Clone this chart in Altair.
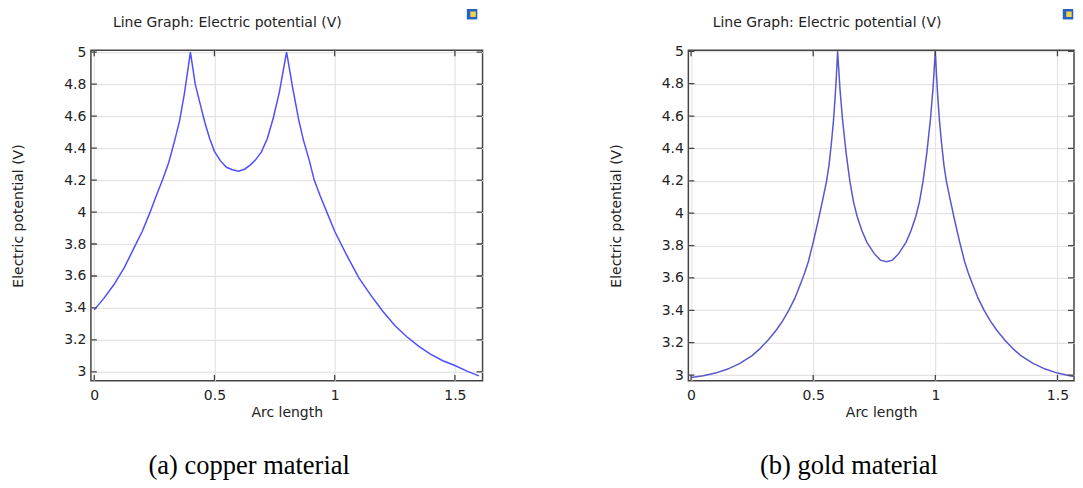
import altair as alt
import pandas as pd

# ---------------- data ----------------
copper_x = [0, 0.04, 0.083, 0.125, 0.166, 0.2, 0.23, 0.26, 0.285, 0.31, 0.335, 0.355,
            0.375, 0.4, 0.42, 0.445, 0.46, 0.48, 0.5, 0.525, 0.55, 0.575, 0.6, 0.625,
            0.65, 0.67, 0.695, 0.72, 0.745, 0.77, 0.8, 0.825, 0.85, 0.87, 0.895, 0.915,
            0.94, 0.97, 1.0, 1.05, 1.1, 1.15, 1.2, 1.25, 1.3, 1.35, 1.4, 1.45, 1.5,
            1.55, 1.6]
copper_v = [3.388, 3.46, 3.548, 3.652, 3.777, 3.88, 3.99, 4.11, 4.205, 4.31, 4.45, 4.57,
            4.74, 5.0, 4.80, 4.65, 4.56, 4.46, 4.38, 4.32, 4.28, 4.265, 4.256, 4.268,
            4.295, 4.325, 4.375, 4.46, 4.59, 4.75, 5.0, 4.78, 4.58, 4.45, 4.32, 4.20,
            4.10, 3.99, 3.88, 3.73, 3.59, 3.48, 3.38, 3.29, 3.22, 3.16, 3.11, 3.07, 3.04,
            3.005, 2.975]

gold_x = [0, 0.05, 0.1, 0.15, 0.2, 0.25, 0.28, 0.315, 0.35, 0.375, 0.4, 0.425, 0.45,
          0.465, 0.48, 0.5, 0.52, 0.54, 0.555, 0.565, 0.575, 0.583, 0.59, 0.595, 0.6,
          0.61, 0.62, 0.635, 0.65, 0.665, 0.68, 0.7, 0.72, 0.75, 0.775, 0.8,
          0.825, 0.85, 0.88, 0.9, 0.92, 0.935, 0.95, 0.965, 0.98, 0.99, 1.0,
          1.005, 1.01, 1.017, 1.025, 1.035, 1.045, 1.06, 1.08, 1.1, 1.12, 1.135, 1.15,
          1.175, 1.2, 1.225, 1.25, 1.285, 1.32, 1.35, 1.4, 1.45, 1.5, 1.55, 1.6]
gold_v = [2.985, 2.995, 3.012, 3.037, 3.072, 3.12, 3.16, 3.215, 3.28, 3.335, 3.40, 3.475,
          3.57, 3.63, 3.70, 3.82, 3.95, 4.09, 4.20, 4.30, 4.44, 4.57, 4.72, 4.85, 5.0,
          4.76, 4.58, 4.37, 4.20, 4.07, 3.98, 3.89, 3.82, 3.75, 3.71, 3.70,
          3.71, 3.75, 3.82, 3.89, 3.98, 4.07, 4.20, 4.37, 4.58, 4.76, 5.0,
          4.85, 4.72, 4.57, 4.44, 4.30, 4.20, 4.09, 3.95, 3.82, 3.70, 3.63, 3.57,
          3.475, 3.40, 3.335, 3.28, 3.215, 3.16, 3.12, 3.072, 3.037, 3.012, 2.995, 2.985]

x_ticks = [0, 0.5, 1, 1.5]
y_ticks = [3, 3.2, 3.4, 3.6, 3.8, 4, 4.2, 4.4, 4.6, 4.8, 5]

plot_title = "Line Graph: Electric potential (V)"
captions = ["(a) copper material", "(b) gold material"]
x_title = "Arc length"
y_title = "Electric potential (V)"

FONT = "DejaVu Sans"
FS = 14
TXT = "#222222"
FRAME = "#444444"


def panel(xs, vs, color, xdom, ydom, W, H, caption, title_x, cap_cx, icon_x):
    df = pd.DataFrame({"s": xs, "v": vs})
    xsc = alt.Scale(domain=xdom, nice=False, zero=False)
    ysc = alt.Scale(domain=ydom, nice=False, zero=False)
    xaxis = alt.Axis(values=x_ticks, format=".1~f", ticks=False, tickSize=0, domain=False,
                     grid=True, gridColor="#e4e4e4", gridWidth=1.2, labelOverlap=False,
                     labelFont=FONT, labelFontSize=FS, labelColor=TXT, labelPadding=8,
                     title=x_title, titleFont=FONT, titleFontSize=FS,
                     titleFontWeight="normal", titleColor=TXT,
                     titleY=36, titleBaseline="alphabetic")
    yaxis = alt.Axis(values=y_ticks, format=".1~f", ticks=False, tickSize=0, domain=False,
                     grid=True, gridColor="#e4e4e4", gridWidth=1.2, labelOverlap=False,
                     labelFont=FONT, labelFontSize=FS, labelColor=TXT, labelPadding=5,
                     title=y_title, titleFont=FONT, titleFontSize=FS,
                     titleFontWeight="normal", titleColor=TXT,
                     titleX=-72, titleBaseline="middle")
    line = alt.Chart(df).mark_line(color=color, strokeWidth=1.5, clip=True).encode(
        x=alt.X("s:Q", scale=xsc, axis=xaxis),
        y=alt.Y("v:Q", scale=ysc, axis=yaxis),
    )
    xt = pd.DataFrame({"s": x_ticks})
    yt = pd.DataFrame({"v": y_ticks})
    tk = dict(color=FRAME, strokeWidth=1.3, clip=True)
    top_t = alt.Chart(xt).mark_rule(**tk).encode(
        x=alt.X("s:Q", axis=xaxis), y=alt.value(0), y2=alt.value(6))
    bot_t = alt.Chart(xt).mark_rule(**tk).encode(
        x=alt.X("s:Q", axis=xaxis), y=alt.value(H - 6), y2=alt.value(H))
    left_t = alt.Chart(yt).mark_rule(**tk).encode(
        y=alt.Y("v:Q", axis=yaxis), x=alt.value(0), x2=alt.value(6))
    right_t = alt.Chart(yt).mark_rule(**tk).encode(
        y=alt.Y("v:Q", axis=yaxis), x=alt.value(W - 6), x2=alt.value(W))

    ttl = alt.Chart(pd.DataFrame({"t": [plot_title]})).mark_text(
        align="left", baseline="alphabetic", font=FONT, fontSize=FS, color=TXT
    ).encode(text="t:N", x=alt.value(title_x), y=alt.value(-23.5))
    cap = alt.Chart(pd.DataFrame({"t": [caption]})).mark_text(
        align="center", baseline="alphabetic", font="Liberation Serif", fontSize=26.5,
        color="#000000"
    ).encode(text="t:N", x=alt.value(cap_cx), y=alt.value(424.5))
    icon_df = pd.DataFrame({"k": ["icon"]})
    icon_a = alt.Chart(icon_df).mark_point(shape="square", filled=True, size=110,
                                           color="#2b5fc8", opacity=1).encode(
        x=alt.value(icon_x), y=alt.value(-36))
    icon_b = alt.Chart(icon_df).mark_point(shape="square", filled=True, size=30,
                                           color="#e8d94c", opacity=1).encode(
        x=alt.value(icon_x + 1), y=alt.value(-36))

    return alt.layer(line, top_t, bot_t, left_t, right_t, ttl, cap, icon_a, icon_b).properties(
        width=W, height=H)


left = panel(copper_x, copper_v, "#4f4fff", [-0.0137, 1.615], [2.944, 5.0125],
             392, 331, captions[0], 22, 158.4, 381.5)
# right panel is cropped at the page edge, as in the reference figure
right = panel(gold_x, gold_v, "#5858cc", [-0.011, 1.5677], [2.964, 5.007],
              386, 331, captions[1], 24.3, 160.7, 380)

chart = alt.hconcat(left, right, spacing=206, bounds="flush").properties(
    padding={"left": 3, "top": 0, "right": 0, "bottom": 0},
    background="white",
).configure_view(stroke=FRAME, strokeWidth=1.5)

chart.save("out.html", embed_options={"renderer": "svg", "actions": False})
